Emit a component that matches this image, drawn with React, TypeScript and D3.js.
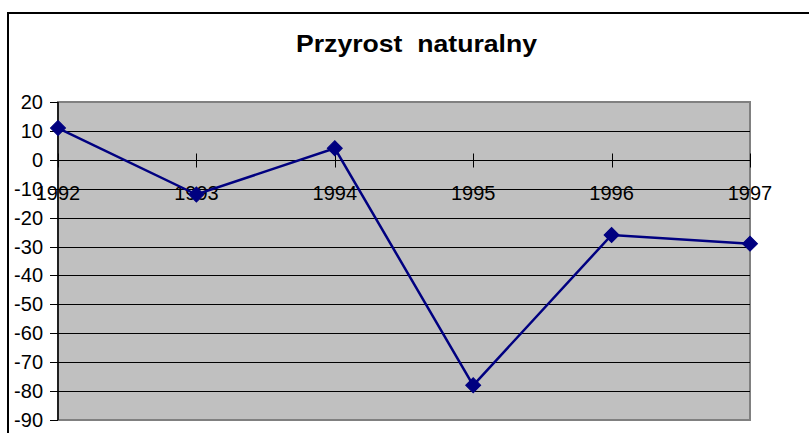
import React from "react";
import * as d3 from "d3";

// chart data
const years = ["1992", "1993", "1994", "1995", "1996", "1997"];
const values = [11, -12, 4, -78, -26, -29];
const yTicks = [20, 10, 0, -10, -20, -30, -40, -50, -60, -70, -80, -90];

const W = 809;
const H = 433;
const plot = { left: 58, top: 102, right: 750, bottom: 420 };
const font = "'Liberation Sans', Arial, sans-serif";

export default function App() {
  const x = d3.scalePoint<string>().domain(years).range([plot.left, plot.right]).padding(0);
  const y = d3.scaleLinear().domain([-90, 20]).range([plot.bottom, plot.top]);

  const line = d3
    .line<number>()
    .x((d, i) => x(years[i]) as number)
    .y((d) => y(d));

  const diamond = d3.symbol().type(d3.symbolSquare).size(112)();
  const y0 = Math.round(y(0)) + 0.5;

  return (
    <svg
      width={W}
      height={H}
      style={{ position: "absolute", left: 0, top: 0, background: "#fff" }}
    >
      {/* chart frame */}
      <rect x={8} y={13} width={900} height={500} fill="#fff" stroke="#000" strokeWidth={2} />

      <text
        x={416.5}
        y={52}
        textAnchor="middle"
        fontFamily={font}
        fontWeight="bold"
        fontSize={24}
        textLength={241}
        lengthAdjust="spacingAndGlyphs"
      >
        Przyrost{"\u00a0\u00a0"}naturalny
      </text>

      {/* plot area */}
      <rect
        x={plot.left}
        y={plot.top}
        width={plot.right - plot.left}
        height={plot.bottom - plot.top}
        fill="#c0c0c0"
        stroke="#808080"
        strokeWidth={2}
      />

      {/* gridlines */}
      {yTicks
        .filter((t) => t !== 20 && t !== -90)
        .map((t) => (
          <line
            key={"g" + t}
            x1={plot.left}
            x2={plot.right}
            y1={Math.round(y(t)) + 0.5}
            y2={Math.round(y(t)) + 0.5}
            stroke="#000"
            strokeWidth={1}
          />
        ))}

      {/* y axis */}
      <line x1={plot.left} x2={plot.left} y1={plot.top} y2={plot.bottom} stroke="#000" strokeWidth={1.5} />
      {yTicks.map((t) => (
        <g key={"y" + t}>
          <line
            x1={plot.left - 8}
            x2={plot.left}
            y1={Math.round(y(t)) + 0.5}
            y2={Math.round(y(t)) + 0.5}
            stroke="#000"
          />
          <text
            x={43}
            y={y(t) + 7}
            textAnchor="end"
            fontFamily={font}
            fontSize={20}
            fill="#000"
          >
            {t}
          </text>
        </g>
      ))}

      {/* x axis (crosses at 0) */}
      <line x1={plot.left} x2={plot.right} y1={y0} y2={y0} stroke="#000" strokeWidth={1} />
      {years.map((yr) => (
        <g key={"x" + yr}>
          <line
            x1={Math.round(x(yr) as number) + 0.5}
            x2={Math.round(x(yr) as number) + 0.5}
            y1={y0 - 7}
            y2={y0 + 7}
            stroke="#000"
          />
          <text
            x={(x(yr) as number) + 0}
            y={200}
            textAnchor="middle"
            fontFamily={font}
            fontSize={20}
            fill="#000"
          >
            {yr}
          </text>
        </g>
      ))}

      {/* series */}
      <path d={line(values) || ""} fill="none" stroke="#000080" strokeWidth={2.5} />
      {values.map((v, i) => (
        <path
          key={"m" + i}
          d={diamond || ""}
          transform={`translate(${x(years[i])},${y(v)}) rotate(45)`}
          fill="#000080"
          stroke="#000080"
        />
      ))}
    </svg>
  );
}
